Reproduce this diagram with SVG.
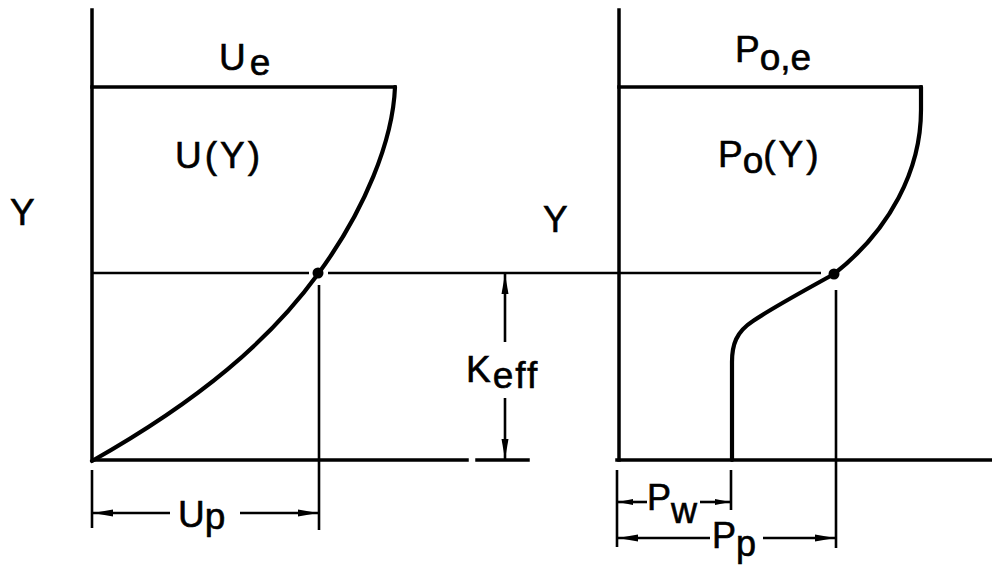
<svg xmlns="http://www.w3.org/2000/svg" width="992" height="565" viewBox="0 0 992 565">
  <style>
    .ax { stroke: #000; stroke-width: 3.5; fill: none; stroke-linecap: square; stroke-linejoin: round; }
    .thin { stroke: #000; stroke-width: 2.6; fill: none; }
    .crv { stroke: #000; stroke-width: 4.2; fill: none; stroke-linecap: round; stroke-linejoin: round; }
    .dim { stroke: #000; stroke-width: 2.6; fill: none; }
    .lbl { font-family: "Liberation Sans", Arial, sans-serif; font-size: 37px; fill: #000; stroke: #000; stroke-width: 0.6; }
    .sm { font-size: 36px; }
  </style>
  <defs>
    <marker id="ah" viewBox="0 0 20 8" refX="20" refY="4" markerWidth="20" markerHeight="8" markerUnits="userSpaceOnUse" orient="auto">
      <path d="M0,0.5 L20,4 L0,7.5 Z" fill="#000"/>
    </marker>
    <marker id="ahs" viewBox="0 0 15 7" refX="15" refY="3.5" markerWidth="15" markerHeight="7" markerUnits="userSpaceOnUse" orient="auto">
      <path d="M0,0.5 L15,3.5 L0,6.5 Z" fill="#000"/>
    </marker>
  </defs>
  <rect width="992" height="565" fill="#fff"/>

  <g id="left-plot">
    <path class="ax" d="M92,10 L92,460 L467,460"/>
    <path class="ax" d="M92,87 L395,87"/>
    <path class="crv" d="M395,87 C393,140 365,210 318,274 C270,340 200,400 92,461"/>
    <circle cx="318" cy="273" r="5.5" fill="#000"/>
  </g>

  <g id="right-plot">
    <path class="ax" d="M619,10 L619,460"/>
    <path class="ax" d="M617,460 L992,460"/>
    <path class="ax" d="M619,87 L921,87"/>
    <path class="crv" d="M921,87 L921,110 C921,170 890,230 834,274 C800,293 772,308 753,321 C736,332 732,345 732,362 L732,460"/>
    <circle cx="834" cy="274" r="5.5" fill="#000"/>
  </g>

  <g id="connectors">
    <line class="thin" x1="92" y1="273" x2="309" y2="273"/>
    <line class="thin" x1="328" y1="273" x2="821" y2="273"/>
    <line class="dim" x1="92" y1="470" x2="92" y2="528"/>
    <line class="dim" x1="319" y1="285" x2="319" y2="530"/>
    <line class="dim" x1="170" y1="513" x2="93" y2="513" marker-end="url(#ah)"/>
    <line class="dim" x1="240" y1="513" x2="318" y2="513" marker-end="url(#ah)"/>
    <line class="ax" x1="477" y1="460" x2="528" y2="460"/>
    <line class="dim" x1="505" y1="342" x2="505" y2="274" marker-end="url(#ah)"/>
    <line class="dim" x1="505" y1="398" x2="505" y2="459" marker-end="url(#ah)"/>
    <line class="dim" x1="617" y1="470" x2="617" y2="547"/>
    <line class="dim" x1="731" y1="470" x2="731" y2="510"/>
    <line class="dim" x1="836" y1="290" x2="836" y2="548"/>
    <line class="dim" x1="647" y1="502" x2="618" y2="502" marker-end="url(#ahs)"/>
    <line class="dim" x1="700" y1="502" x2="730" y2="502" marker-end="url(#ahs)"/>
    <line class="dim" x1="710" y1="538" x2="618" y2="538" marker-end="url(#ah)"/>
    <line class="dim" x1="763" y1="538" x2="835" y2="538" marker-end="url(#ah)"/>
  </g>

  <g id="labels">
    <text class="lbl" x="219" y="70">U<tspan dx="4" dy="5">e</tspan></text>
    <text class="lbl" x="175" y="168" letter-spacing="3">U(Y)</text>
    <text class="lbl" x="10" y="225">Y</text>
    <text class="lbl" x="543" y="232">Y</text>
    <text class="lbl" x="466" y="382">K<tspan dx="2" dy="6" letter-spacing="2">eff</tspan></text>
    <text class="lbl" x="735" y="62">P<tspan dy="8">o,e</tspan></text>
    <text class="lbl" x="718" y="167">P<tspan dy="6">o</tspan><tspan dy="-6" letter-spacing="3">(Y)</tspan></text>
    <text class="lbl" x="178" y="527">U<tspan dy="2">p</tspan></text>
    <text class="lbl sm" x="647" y="510">P<tspan dy="13">w</tspan></text>
    <text class="lbl sm" x="712" y="548">P<tspan dy="8">p</tspan></text>
  </g>
</svg>
